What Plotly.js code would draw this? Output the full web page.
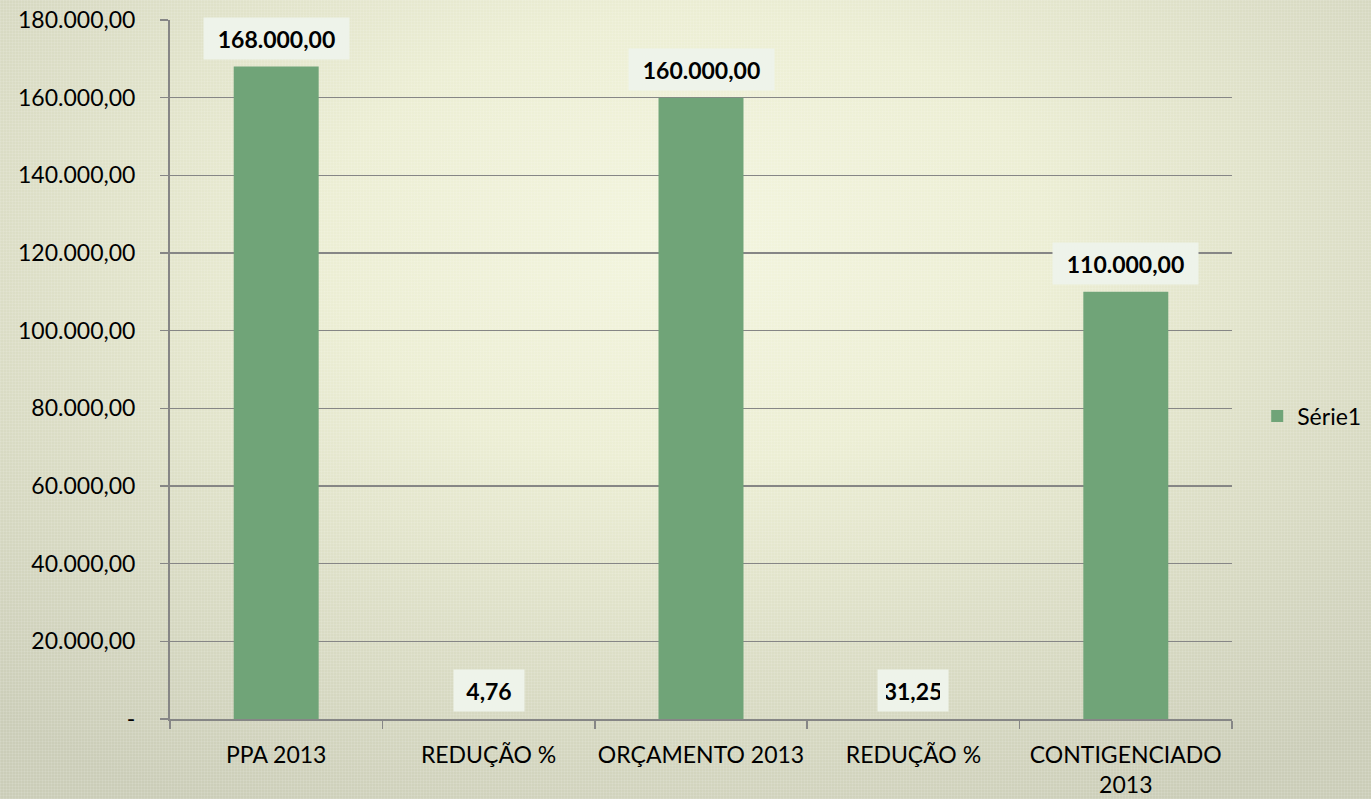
<!DOCTYPE html>
<html>
<head>
<meta charset="utf-8">
<script src="https://cdn.plot.ly/plotly-3.0.1.min.js"></script>
<style>
html, body { margin:0; padding:0; width:1371px; height:799px; overflow:hidden; }
body {
  background:
    repeating-linear-gradient(0deg, rgba(255,255,255,0.10) 0px, rgba(255,255,255,0.10) 1px, rgba(0,0,0,0) 1px, rgba(0,0,0,0) 3px),
    repeating-linear-gradient(90deg, rgba(255,255,255,0.10) 0px, rgba(255,255,255,0.10) 1px, rgba(0,0,0,0) 1px, rgba(0,0,0,0) 3px),
    radial-gradient(ellipse 75% 80% at 50% 30%, #f3f5de 0%, #eceed4 35%, #dcdec6 65%, #cbcdb8 100%);
}
#chart { width:1371px; height:799px; }
</style>
</head>
<body>
<div id="chart"></div>
<script>
const categories = ["PPA 2013", "REDUÇÃO %", "ORÇAMENTO 2013", "REDUÇÃO %", "CONTIGENCIADO<br>2013"];
const values = [168000, 4.76, 160000, 31.25, 110000];
const labels = ["168.000,00", "4,76", "160.000,00", "31,25", "110.000,00"];
const seriesName = "Série1";
const yTickVals = [0, 20000, 40000, 60000, 80000, 100000, 120000, 140000, 160000, 180000];
const yTickText = ["-", "20.000,00", "40.000,00", "60.000,00", "80.000,00", "100.000,00", "120.000,00", "140.000,00", "160.000,00", "180.000,00"];

const xIdx = categories.map((c, i) => i);
const FONT = "Lato, 'Open Sans', sans-serif";
const FS = 23;

const trace = {
  type: "bar",
  x: xIdx,
  y: values,
  name: seriesName,
  marker: { color: "#70a478" },
  showlegend: true,
  hoverinfo: "none"
};

const annotations = values.map((v, i) => ({
  x: i, y: v, xref: "x", yref: "y",
  text: "<b>" + labels[i] + "</b>",
  showarrow: false,
  yanchor: "bottom",
  yshift: 7,
  bgcolor: "#eef3ea",
  borderpad: 8,
  width: labels[i].length > 6 ? 129 : 54,
  height: 25,
  font: { family: FONT, size: FS, color: "#000000" }
}));

const layout = {
  width: 1371, height: 799,
  paper_bgcolor: "rgba(0,0,0,0)",
  plot_bgcolor: "rgba(0,0,0,0)",
  margin: { l: 170, r: 139, t: 20, b: 80 },
  bargap: 0.6,
  font: { family: FONT, size: FS, color: "#000000" },
  xaxis: {
    range: [-0.5, 4.5],
    tickvals: xIdx,
    ticktext: categories,
    ticks: "",
    minor: {
      tick0: -0.5, dtick: 1,
      ticks: "outside", ticklen: 8, tickwidth: 1.5, tickcolor: "#868686",
      showgrid: false
    },
    showline: true,
    linecolor: "#868686",
    linewidth: 2,
    showgrid: false,
    zeroline: false,
    ticklabelstandoff: 14,
    tickfont: { family: FONT, size: FS, color: "#000000" },
    fixedrange: true
  },
  yaxis: {
    range: [0, 180000],
    tickvals: yTickVals,
    ticktext: yTickText,
    ticks: "outside",
    ticklen: 8,
    tickwidth: 1.5,
    tickcolor: "#868686",
    showline: true,
    linecolor: "#868686",
    linewidth: 2,
    showgrid: true,
    gridcolor: "#868686",
    gridwidth: 1.5,
    zeroline: false,
    ticklabelstandoff: 20,
    tickfont: { family: FONT, size: FS, color: "#000000" },
    fixedrange: true
  },
  legend: {
    xref: "container", yref: "container",
    x: 0.917, xanchor: "left",
    y: 1 - 416 / 799, yanchor: "middle",
    bgcolor: "rgba(0,0,0,0)",
    font: { family: FONT, size: FS, color: "#000000" },
    itemwidth: 30
  },
  annotations: annotations
};

Plotly.newPlot("chart", [trace], layout, { displayModeBar: false, staticPlot: true });
</script>
</body>
</html>
